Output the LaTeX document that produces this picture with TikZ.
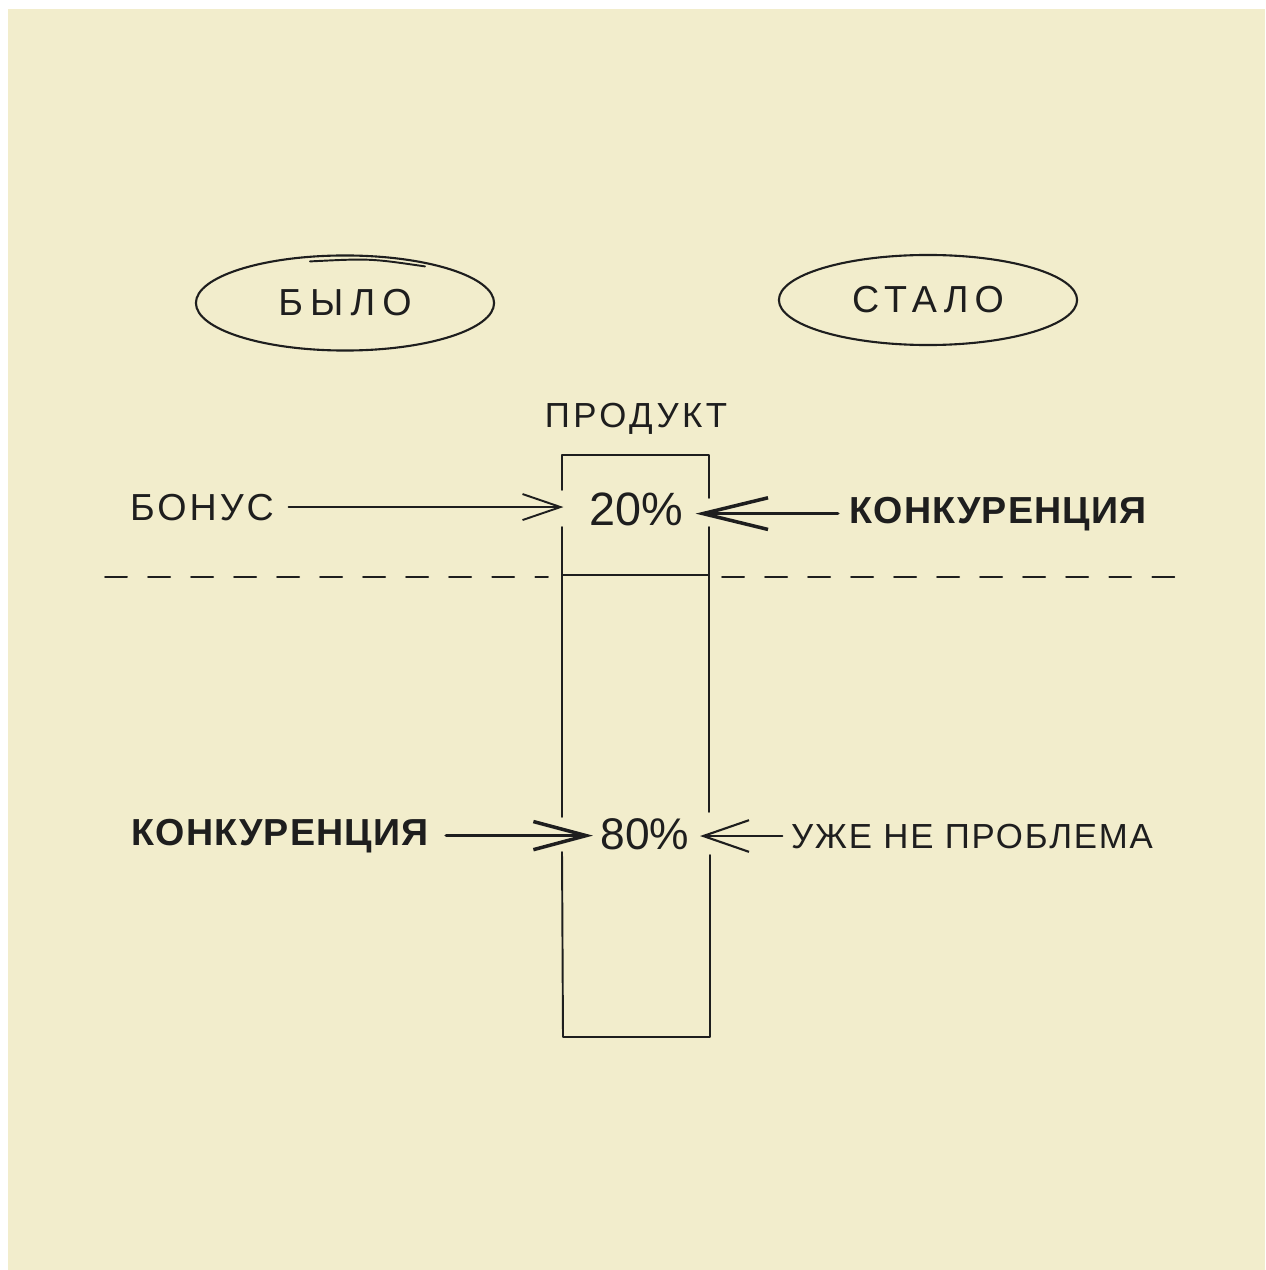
\documentclass[tikz,border=0pt]{standalone}
\usepackage{fontspec}
\setmainfont{Liberation Sans}
\usetikzlibrary{arrows.meta,shapes.geometric}
\definecolor{paper}{HTML}{F2EDCC}
\definecolor{ink}{HTML}{1E1E1E}
\newcommand\spaced[1]{\addfontfeature{LetterSpace=#1}}

\begin{document}
\begin{tikzpicture}[x=0.01cm,y=-0.01cm,line cap=round,line join=round]
\tikzstyle{t}=[inner sep=0pt,text=ink,anchor=base,font=\fontsize{10.7}{12}\selectfont]
\tikzstyle{tb}=[t,font=\fontsize{10.7}{12}\selectfont\bfseries]
\tikzstyle{pct}=[t,font=\fontsize{13.3}{15}\selectfont]
\tikzstyle{oval}=[draw=ink,ellipse,line width=0.6pt,text=ink,inner sep=0pt,minimum width=2.98cm,font=\fontsize{10.7}{12}\selectfont]
\tikzstyle{pen}=[draw=ink,line width=0.55pt]
\tikzstyle{divider}=[pen,dash pattern=on 2.2mm off 2.1mm]
\useasboundingbox (0,0) rectangle (1265,1270);
\fill[white] (0,0) rectangle (1265,1270);
\fill[paper] (8,9) rectangle (1265,1270);

\node[oval,minimum height=0.95cm] (was) at (345,303) {\spaced{19}БЫЛО};
\draw[pen] ([shift={(-35,7)}]was.north) .. controls ([shift={(25,4)}]was.north) .. ([shift={(80,12)}]was.north);
\node[oval,minimum height=0.9cm] (now) at (928,300) {\spaced{16}СТАЛО};

\node[t,font=\fontsize{9.9}{12}\selectfont] (prod) at (636,427) {\spaced{10}ПРОДУКТ};

\coordinate (tl) at (562,455);
\coordinate (tr) at (709,455);
\coordinate (bl) at (563,1037);
\coordinate (br) at (710,1037);
\draw[pen] (562,490) -- (tl) -- (tr) -- (709,498);
\draw[pen] (562,527) -- (562,817);
\draw[pen] (709,527) -- (709,812);
\draw[pen] (562,852) -- (bl) -- (br) -- (710,855);
\draw[pen] (562,575) -- (709,575);
\draw[divider] (105,577) -- (548,577);
\draw[divider] (722,577) -- (1178,577);

\node[pct] (p20) at (636,525) {20\%};
\node[pct,font=\fontsize{12.6}{15}\selectfont] (p80) at (645,849) {80\%};
\node[t] (bonus) at (202,520) {\spaced{8}БОНУС};
\node[tb] (comp1) at (998,523) {\spaced{3}КОНКУРЕНЦИЯ};
\node[tb] (comp2) at (280,845) {\spaced{3}КОНКУРЕНЦИЯ};
\node[t,font=\fontsize{9.9}{12}\selectfont] (solved) at (972,848) {\spaced{5}УЖЕ НЕ ПРОБЛЕМА};

\draw[pen,-{Straight Barb[length=10.8pt,width=7.4pt]},shorten <=1.4mm,shorten >=2.5mm] (bonus.east) -- (bonus.east -| p20.west);
\draw[pen,line width=1pt,-{Straight Barb[length=18.5pt,width=9pt]},shorten <=1.1mm,shorten >=1.2mm] (comp1.west) -- (comp1.west -| p20.east);
\draw[pen,line width=1pt,-{Straight Barb[length=15pt,width=8pt]},shorten <=1.7mm,shorten >=0.7mm] (comp2.east) -- (comp2.east -| p80.west);
\draw[pen,line width=0.6pt,-{Straight Barb[length=13pt,width=9pt]},shorten <=0.8mm,shorten >=1mm] (solved.west) -- (solved.west -| p80.east);
\end{tikzpicture}
\end{document}
